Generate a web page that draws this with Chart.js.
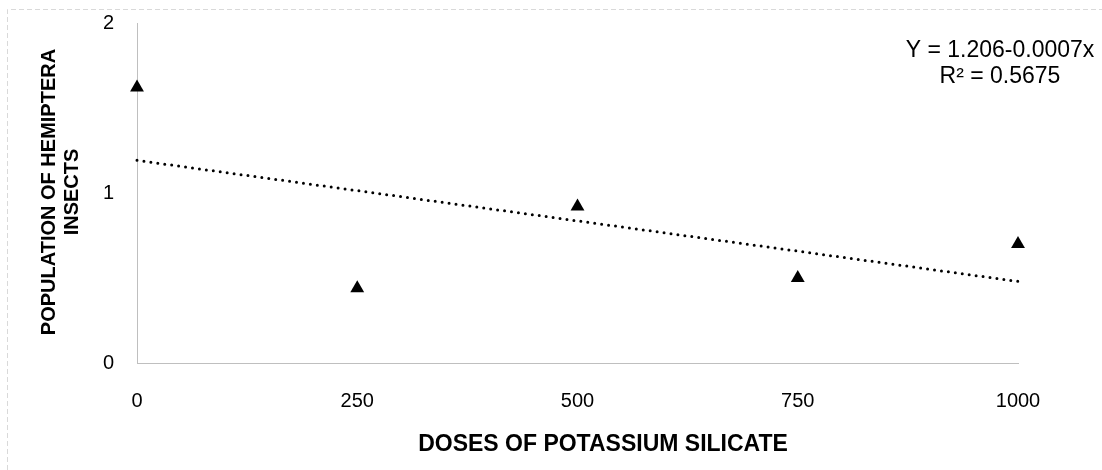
<!DOCTYPE html>
<html lang="en">
<head>
  <meta charset="UTF-8">
  <title>Hemiptera vs potassium silicate</title>
  <script src="https://cdn.jsdelivr.net/npm/chart.js"></script>
  <style>
    * { box-sizing: border-box; }
    body { margin: 0; background: #fff; }
    #wrap { width: 1102px; height: 470px; position: relative; }
  </style>
</head>
<body>
  <div id="wrap"><canvas id="chart" width="1102" height="470"></canvas></div>
  <script>
    // data
    const doses = [0, 250, 500, 750, 1000];
    const insects = [1.62, 0.44, 0.92, 0.50, 0.70];
    const xTicks = [0, 250, 500, 750, 1000];
    const yTicks = [0, 1, 2];
    const xTitle = 'DOSES OF POTASSIUM SILICATE';
    const yTitle = ['POPULATION OF HEMIPTERA', 'INSECTS'];
    const eqLines = ['Y = 1.206-0.0007x', 'R\u00b2 = 0.5675'];

    // least squares line through the points
    const n = doses.length;
    const mx = doses.reduce((a, b) => a + b, 0) / n;
    const my = insects.reduce((a, b) => a + b, 0) / n;
    let sxy = 0, sxx = 0;
    doses.forEach((x, i) => { sxy += (x - mx) * (insects[i] - my); sxx += (x - mx) * (x - mx); });
    const slope = sxy / sxx, icpt = my - slope * mx;
    const trend = [0, 1000].map(x => ({ x, y: icpt + slope * x }));

    const FONT = '"Liberation Sans", Arial, sans-serif';

    const extras = {
      id: 'extras',
      beforeDraw(chart) {
        const c = chart.ctx;
        c.save();
        c.fillStyle = '#fff';
        c.fillRect(0, 0, chart.width, chart.height);
        // dashed frame (top / left)
        c.strokeStyle = '#d9d9d9';
        c.lineWidth = 1;
        c.setLineDash([5, 3]);
        c.beginPath();
        c.moveTo(7.5, chart.height);
        c.lineTo(7.5, 9.5);
        c.lineTo(chart.width, 9.5);
        c.stroke();
        c.restore();
      },
      afterDraw(chart) {
        const c = chart.ctx;
        c.save();
        c.fillStyle = '#000';
        c.textAlign = 'center';
        c.textBaseline = 'middle';
        c.font = 'bold 23px ' + FONT;
        c.fillText(xTitle, 603, 445);
        c.font = 'bold 20px ' + FONT;
        c.translate(60, 192);
        c.rotate(-Math.PI / 2);
        c.fillText(yTitle[0], 0, -11);
        c.fillText(yTitle[1], 0, 12);
        c.restore();
        c.save();
        c.fillStyle = '#000';
        c.textAlign = 'center';
        c.textBaseline = 'middle';
        c.font = '23px ' + FONT;
        c.fillText(eqLines[0], 1000, 51);
        c.fillText(eqLines[1], 1000, 77);
        c.restore();
      }
    };

    new Chart(document.getElementById('chart'), {
      type: 'scatter',
      data: {
        datasets: [
          {
            data: doses.map((x, i) => ({ x, y: insects[i] })),
            pointStyle: 'triangle',
            pointRadius: 8,
            backgroundColor: '#000',
            borderColor: '#000',
            borderWidth: 0,
            clip: false
          },
          {
            type: 'line',
            data: trend,
            borderColor: '#000',
            borderWidth: 3,
            borderDash: [0, 7],
            borderCapStyle: 'round',
            pointRadius: 0,
            fill: false,
            clip: false
          }
        ]
      },
      options: {
        responsive: false,
        animation: false,
        layout: { autoPadding: false, padding: { left: 0, right: 84, top: 23, bottom: 0 } },
        plugins: { legend: { display: false }, tooltip: { enabled: false } },
        scales: {
          x: {
            type: 'linear', min: 0, max: 1000,
            afterFit: s => { s.height = 107; s.paddingLeft = 0; s.paddingRight = 0; },
            afterBuildTicks: s => { s.ticks = xTicks.map(v => ({ value: v })); },
            grid: { display: false, drawTicks: false },
            border: { display: true, color: '#bfbfbf', width: 1 },
            ticks: { color: '#000', padding: 26, maxRotation: 0, font: { family: FONT, size: 20 }, callback: v => String(v) }
          },
          y: {
            min: 0, max: 2,
            afterFit: s => { s.width = 137; s.paddingTop = 0; s.paddingBottom = 0; },
            afterBuildTicks: s => { s.ticks = yTicks.map(v => ({ value: v })); },
            grid: { display: false, drawTicks: false },
            border: { display: true, color: '#bfbfbf', width: 1 },
            ticks: { color: '#000', padding: 23, font: { family: FONT, size: 20 }, callback: v => String(v) }
          }
        }
      },
      plugins: [extras]
    });
  </script>
</body>
</html>
